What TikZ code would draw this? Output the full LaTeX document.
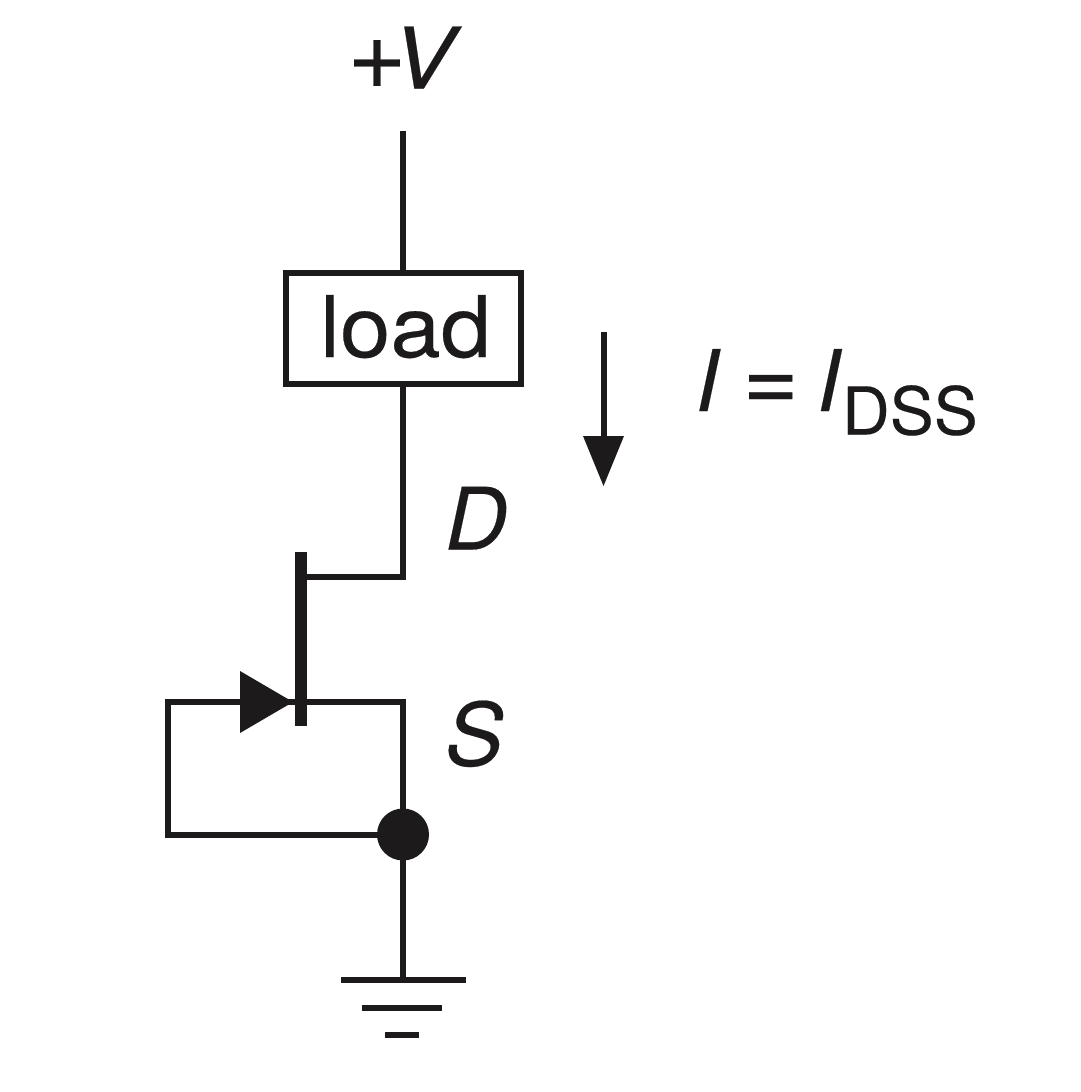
\documentclass[tikz,border=0pt]{standalone}
\usepackage{fontspec}
\setmainfont[ItalicFeatures={FakeBold=0.25},UprightFeatures={FakeBold=0.25}]{TeX Gyre Heros}
\begin{document}
\begin{tikzpicture}[x=1pt,y=-1pt,
  wire/.style={draw=ink,line width=6pt},
  txt/.style={text=ink,inner sep=0pt},
  blk/.style={fill=ink,draw=none}]
\definecolor{ink}{HTML}{1C1A1B}
\useasboundingbox (0,0) rectangle (1080,1092);
\fill[white] (0,0) rectangle (1080,1092);
\coordinate (top) at (403,131);
\node[draw=ink,line width=6pt,minimum width=235pt,minimum height=111pt,inner sep=0pt,fill=white,anchor=center] (load) at (403.5,328.5) {};
\node[txt,font=\fontsize{85}{89}\selectfont,anchor=base] (loadt) at (405.5,357) {\scalebox{1.065}[1]{load}};
\coordinate (dr) at (403,577);
\coordinate (gt) at (301,577);
\coordinate (sr) at (403,702);
\node[circle,blk,minimum size=52pt,inner sep=0pt] (dot) at (403,834.5) {};
\coordinate (gnd) at (403,980);
\draw[wire] (top) -- (top |- load.north);
\draw[wire] (top |- load.south) -- (dr) -- (gt);
\draw[wire] (dot.center) -- (gnd);
\draw[wire,line join=miter] (dot.center) -- (168,834.5) -- (168,702) -- (sr) -- (dot.center);
\fill[ink] (295,552) rectangle (307,726);
\fill[ink] (240,671) -- (293,702) -- (240,733) -- cycle;
\draw[wire] (341,980) -- (466,980);
\draw[wire] (362,1008) -- (442,1008);
\draw[wire] (385,1035) -- (419,1035);
\coordinate (ia) at (603.5,332);
\coordinate (ib) at (603.5,440);
\draw[wire] (ia) -- (ib);
\fill[ink] (583,436) -- (624,436) -- (603.5,486) -- cycle;
\node[txt,font=\fontsize{85}{89}\selectfont,anchor=base west] (v) at (347,88.5) {{\fontsize{102}{106}\selectfont +}\kern-15pt\scalebox{1.1}[1]{\textit{V}}};
\node[txt,anchor=base west,font=\fontsize{86}{90}\selectfont] (d) at (445,549.5) {\textit{D}};
\node[txt,anchor=base west,font=\fontsize{87}{90}\selectfont] (s) at (445,765.5) {\textit{S}};
\node[txt,anchor=base west,font=\fontsize{85}{89}\selectfont] (i) at (695,411) {\textit{I}\kern22pt{\fontsize{96}{100}\selectfont =}\kern18pt\textit{I}\raisebox{-23.5pt}{\fontsize{66}{70}\selectfont DSS}};
\end{tikzpicture}
\end{document}
